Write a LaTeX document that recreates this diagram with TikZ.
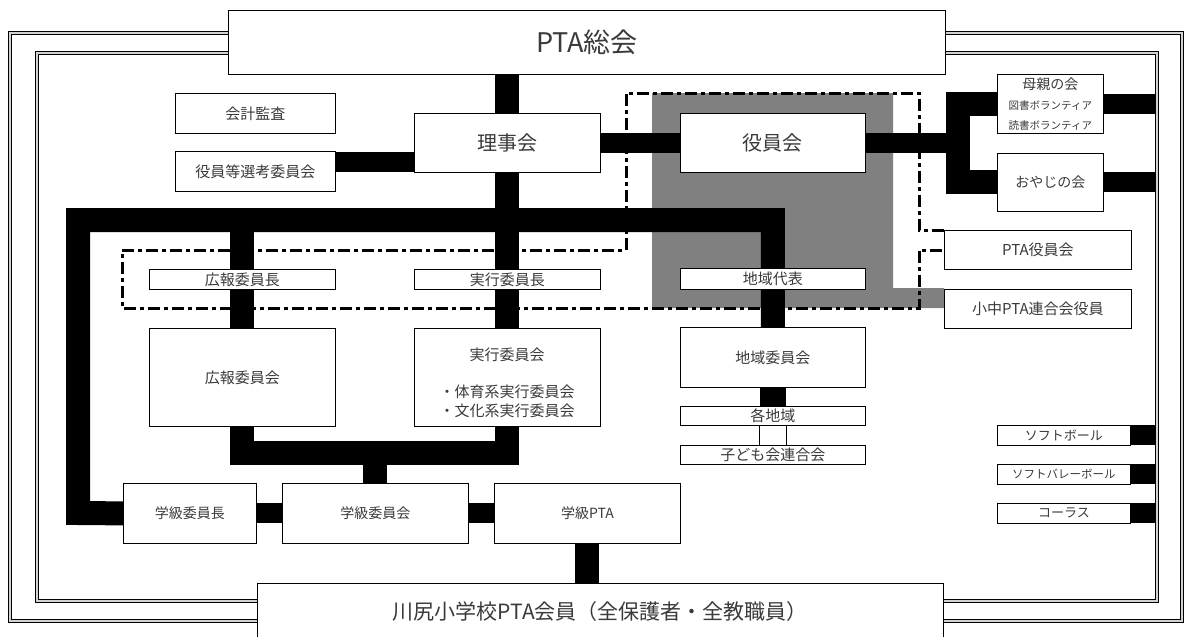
\documentclass[tikz,border=0pt]{standalone}
\usepackage{fontspec}
\newfontfamily\jpfont{Noto Sans CJK JP}
\usetikzlibrary{backgrounds}
\definecolor{inkgray}{HTML}{3A3A3A}
\definecolor{midgray}{HTML}{808080}

\begin{document}
\begin{tikzpicture}
  [x=1pt, y=-1pt, line join=miter,
   every node/.style={font=\jpfont\fontsize{15}{18}\selectfont, text=inkgray, inner sep=0pt},
   fs/.style={font=\jpfont\fontsize{#1}{#1}\selectfont},
   box/.style={draw=black, fill=white, line width=0.8pt, anchor=north west},
   bar/.style={line width=24pt},
   thinbar/.style={line width=20pt},
   kakomi/.style={line width=3pt, dash pattern=on 12pt off 4pt on 4pt off 4pt},
%   kakomi/.style={dashed, thick},
   frameline/.style={draw=black, line width=0.9pt, double=gray!35, double distance=1.6pt}]
 \useasboundingbox (0,0) rectangle (1184,637);

 % top and bottom
 \node[box, fs=27, minimum width=717, minimum height=64] (sokai) at (228,10) {PTA総会};
 \node[box, fs=21, minimum width=686, minimum height=56] (kaiin) at (257,583) {川尻小学校PTA会員（全保護者・全教職員）};

 \node[box, minimum width=160, minimum height=40] (kansa) at (175,93) {会計監査};
 \node[box, minimum width=160, minimum height=40] (senko) at (175,151) {役員等選考委員会};
 \node[box, fs=20, minimum width=186, minimum height=59] (riji) at (414,113) {理事会};
 \node[box, fs=20, minimum width=185, minimum height=59] (yakuin) at (680,113) {役員会};

 \node[box, minimum width=106, minimum height=59, align=center, font=\jpfont\fontsize{10.5}{20}\selectfont] (hahaoya) at (997,74)
   {{\fontsize{14}{14}\selectfont 母親の会}\\図書ボランティア\\読書ボランティア};
 \node[box, fs=14, minimum width=106, minimum height=58] (oyaji) at (997,153) {おやじの会};
 \node[box, minimum width=187, minimum height=39] (ptayaku) at (944,230) {PTA役員会};
 \node[box, minimum width=187, minimum height=39] (rengo) at (944,289) {小中PTA連合会役員};

 \node[box, minimum width=186, minimum height=20] (kohocho) at (149,269) {広報委員長};
 \node[box, minimum width=186, minimum height=20] (jikkocho) at (414,269) {実行委員長};
 \node[box, minimum width=185, minimum height=21] (chiikidai) at (680,268) {地域代表};

 \node[box, minimum width=186, minimum height=98] (koho) at (149,328) {広報委員会};
 \node[box, minimum width=186, minimum height=98] (jikko) at (414,328) {};
 \node (jikkottl) at (507,355) {実行委員会};
 \node[anchor=north, align=left, font=\jpfont\fontsize{15}{19}\selectfont] (jikkosub) at (507,385)
   {・体育系実行委員会\\・文化系実行委員会};
 \node[box, minimum width=185, minimum height=60] (chiiki) at (680,327) {地域委員会};
 \node[box, minimum width=185, minimum height=19] (kakuchiiki) at (680,406) {各地域};
 \node[box, minimum width=185, minimum height=19] (kodomo) at (680,445) {子ども会連合会};

 \node[box, fs=14, minimum width=133, minimum height=60] (gakkyucho) at (123,483) {学級委員長};
 \node[box, fs=14, minimum width=186, minimum height=60] (gakkyu) at (282,483) {学級委員会};
 \node[box, fs=14, minimum width=186, minimum height=60] (gakkyupta) at (494,483) {学級PTA};

 \node[box, fs=13, minimum width=133, minimum height=20] (softb) at (997,425) {ソフトボール};
 \node[box, fs=11.5, minimum width=133, minimum height=20] (softv) at (997,464) {ソフトバレーボール};
 \node[box, fs=13, minimum width=133, minimum height=20] (chorus) at (997,503) {コーラス};

 \coordinate (lt) at (78,220);
 \coordinate (lb) at (78,513);
 \coordinate (br) at (958,0);
 \coordinate (fr) at (1157,0);

 \begin{pgfonlayer}{background}
  \fill[midgray] (652,93) -- (893,93) -- (893,288) -- (rengo.west |- 0,288)
     -- (rengo.west |- 0,308) -- (652,308) -- cycle;
  \draw[kakomi] (ptayaku.north west) -- (919,230) -- (919,93) -- (626,93) -- (626,250)
     -- (122,250) -- (122,308) -- (919,308) -- (919,250) -- (ptayaku.west |- 0,250);

  \draw[bar] (sokai.south -| riji) -- (jikko.north);
  \draw[thinbar] ([yshift=9pt]senko.east) -- ([yshift=9pt]senko.east -| riji.west);
  \draw[thinbar] (riji.east) -- (yakuin.west);
  \draw[thinbar] (yakuin.east) -- (yakuin.east -| br);
  \draw[bar] (hahaoya.west) -- (hahaoya.west -| br) -- (oyaji.west -| br) -- (oyaji.west);
  \draw[thinbar] (hahaoya.east) -- (hahaoya.east -| fr);
  \draw[thinbar] (oyaji.east) -- (oyaji.east -| fr);
  \foreach \s in {softb,softv,chorus}
    \draw[thinbar] (\s.east) -- (\s.east -| fr);

  \draw[bar] (gakkyucho.west) -- (lb) -- (lt) -- (lt -| chiiki.north) -- (chiiki.north);
  \draw[bar] (kohocho.north |- lt) -- (koho.north);
  \draw[bar] (koho.south) -- (koho.south |- 0,453) -- (jikko.south |- 0,453) -- (jikko.south);
  \draw[bar] (gakkyu.north |- 0,453) -- (gakkyu.north);
  \draw[thinbar] (gakkyucho.east) -- (gakkyu.west);
  \draw[thinbar] (gakkyu.east) -- (gakkyupta.west);
  \draw[bar] (gakkyupta.south) -- (kaiin.north -| gakkyupta.south);
  \draw[line width=26pt] (chiiki.south) -- (kakuchiiki.north);
 \end{pgfonlayer}

 \draw[thin] ([xshift=-14pt]kakuchiiki.south) -- ([xshift=-14pt]kodomo.north);
 \draw[thin] ([xshift=13pt]kakuchiiki.south) -- ([xshift=13pt]kodomo.north);

 % double frame
 \draw[frameline] (sokai.west |- 0,33) -- (10,33) -- (10,621) -- (kaiin.west |- 0,621);
 \draw[frameline] (sokai.west |- 0,53) -- (37,53) -- (37,601) -- (kaiin.west |- 0,601);
 \draw[frameline] (sokai.east |- 0,33) -- (1182,33) -- (1182,621) -- (kaiin.east |- 0,621);
 \draw[frameline] (sokai.east |- 0,53) -- (1157,53) -- (1157,601) -- (kaiin.east |- 0,601);
\end{tikzpicture}
\end{document}
